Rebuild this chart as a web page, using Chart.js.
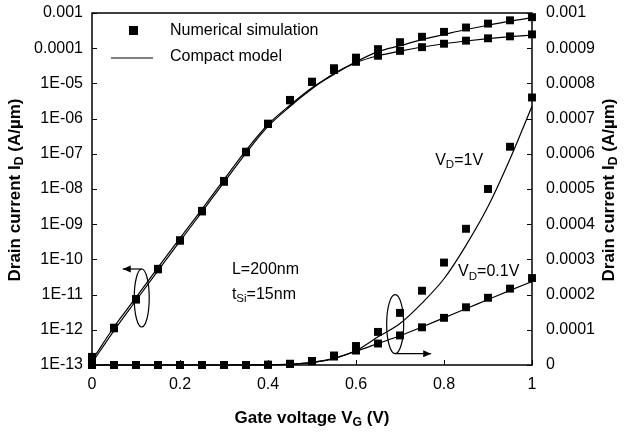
<!DOCTYPE html>
<html>
<head>
<meta charset="utf-8">
<script src="https://cdn.jsdelivr.net/npm/chart.js@4.4.1/dist/chart.umd.min.js"></script>
<style>
  html, body { margin: 0; padding: 0; background: #fff; }
  #wrap { width: 624px; height: 438px; position: relative; }
</style>
</head>
<body>
<div id="wrap"><canvas id="chart"></canvas></div>
<script>
// gate voltage steps (V)
const gateVoltage = [0, 0.05, 0.1, 0.15, 0.2, 0.25, 0.3, 0.35, 0.4, 0.45, 0.5,
  0.55, 0.6, 0.65, 0.7, 0.75, 0.8, 0.85, 0.9, 0.95, 1];

// numerical simulation, drain current (A/um)
const simVd1 = [1.7e-13, 1.15e-12, 7.5e-12, 5.4e-11, 3.5e-10, 2.4e-9, 1.7e-8, 1.15e-7, 7.2e-7, 3.4e-6, 1.12e-5,
  2.7e-5, 5.4e-5, 9.4e-5, 1.48e-4, 2.11e-4, 2.91e-4, 3.87e-4, 5.0e-4, 6.2e-4, 7.6e-4];
const simVd01 = [1.6e-13, 1.1e-12, 7.2e-12, 5.2e-11, 3.4e-10, 2.3e-9, 1.6e-8, 1.1e-7, 7.0e-7, 3.3e-6, 1.1e-5,
  2.4e-5, 4.1e-5, 6.1e-5, 8.4e-5, 1.07e-4, 1.34e-4, 1.64e-4, 1.91e-4, 2.17e-4, 2.47e-4];

// compact model
const modelVd1 = [1.35e-13, 1.2e-12, 8.3e-12, 5.9e-11, 4.0e-10, 2.7e-9, 1.85e-8, 1.25e-7, 6.8e-7, 2.4e-6, 7.5e-6,
  1.8e-5, 4.1e-5, 8.0e-5, 1.18e-4, 1.76e-4, 2.45e-4, 3.4e-4, 4.5e-4, 5.85e-4, 7.35e-4];
const modelVd01 = [1.15e-13, 9.5e-13, 6.8e-12, 4.8e-11, 3.3e-10, 2.25e-9, 1.55e-8, 1.05e-7, 6.0e-7, 2.2e-6, 7.0e-6,
  1.9e-5, 3.9e-5, 6.1e-5, 8.3e-5, 1.08e-4, 1.34e-4, 1.6e-4, 1.86e-4, 2.12e-4, 2.37e-4];

// tick labels
const xTickLabels = ["0", "0.2", "0.4", "0.6", "0.8", "1"];
const logTickValues = [1e-13, 1e-12, 1e-11, 1e-10, 1e-9, 1e-8, 1e-7, 1e-6, 1e-5, 1e-4, 1e-3];
const logTickLabels = ["1E-13", "1E-12", "1E-11", "1E-10", "1E-09", "1E-08", "1E-07", "1E-06", "1E-05", "0.0001", "0.001"];
const linTickLabels = ["0", "0.0001", "0.0002", "0.0003", "0.0004", "0.0005", "0.0006", "0.0007", "0.0008", "0.0009", "0.001"];

const FONT = "'Liberation Sans', Arial, sans-serif";

const pts = (ys) => gateVoltage.map((x, i) => ({ x: x, y: ys[i] }));

function simSet(ys, axis) {
  return {
    data: pts(ys),
    yAxisID: axis,
    showLine: false,
    pointStyle: "rect",
    pointRadius: 5.6,
    pointBackgroundColor: "#000",
    pointBorderWidth: 0,
    clip: false,
  };
}

function modelSet(ys, axis) {
  return {
    data: pts(ys),
    yAxisID: axis,
    showLine: true,
    borderColor: "#000",
    borderWidth: 1.2,
    pointRadius: 0,
    cubicInterpolationMode: "monotone",
    clip: false,
  };
}

// draws text runs, a run with sub=true is a subscript
function drawRuns(ctx, runs, x, y, size, bold) {
  ctx.textBaseline = "middle";
  ctx.textAlign = "left";
  let cx = x;
  runs.forEach((r) => {
    const s = r.sub ? size * 0.72 : size;
    ctx.font = (bold ? "bold " : "") + s + "px " + FONT;
    ctx.fillText(r.t, cx, r.sub ? y + size * 0.28 : y);
    cx += ctx.measureText(r.t).width;
  });
  return cx - x;
}

function runsWidth(ctx, runs, size, bold) {
  let w = 0;
  runs.forEach((r) => {
    const s = r.sub ? size * 0.72 : size;
    ctx.font = (bold ? "bold " : "") + s + "px " + FONT;
    w += ctx.measureText(r.t).width;
  });
  return w;
}

function arrow(ctx, x1, y1, x2, y2) {
  ctx.beginPath();
  ctx.moveTo(x1, y1);
  ctx.lineTo(x2, y2);
  ctx.stroke();
  const dir = Math.sign(x2 - x1);
  ctx.beginPath();
  ctx.moveTo(x2, y2);
  ctx.lineTo(x2 - dir * 8, y2 - 3.5);
  ctx.lineTo(x2 - dir * 8, y2 + 3.5);
  ctx.closePath();
  ctx.fill();
}

const decorations = {
  id: "decorations",
  afterDatasetsDraw(chart) {
    const ctx = chart.ctx;
    const a = chart.chartArea;
    const xs = chart.scales.x, yl = chart.scales.y, yr = chart.scales.y2;
    ctx.save();
    ctx.strokeStyle = "#000";
    ctx.fillStyle = "#000";

    // frame
    ctx.lineWidth = 1.5;
    ctx.strokeRect(a.left, a.top, a.right - a.left, a.bottom - a.top);

    // inward ticks
    ctx.lineWidth = 1;
    ctx.beginPath();
    xs.ticks.forEach((t) => {
      const px = Math.round(xs.getPixelForValue(t.value)) + 0.5;
      ctx.moveTo(px, a.bottom);
      ctx.lineTo(px, a.bottom - 5);
    });
    yl.ticks.forEach((t) => {
      const py = Math.round(yl.getPixelForValue(t.value)) + 0.5;
      ctx.moveTo(a.left, py);
      ctx.lineTo(a.left + 5, py);
    });
    yr.ticks.forEach((t) => {
      const py = Math.round(yr.getPixelForValue(t.value)) + 0.5;
      ctx.moveTo(a.right, py);
      ctx.lineTo(a.right - 5, py);
    });
    ctx.stroke();

    // legend
    ctx.fillRect(a.left + 37, a.top + 13, 9, 9);
    ctx.lineWidth = 1.2;
    ctx.beginPath();
    ctx.moveTo(a.left + 19, a.top + 45);
    ctx.lineTo(a.left + 61, a.top + 45);
    ctx.stroke();
    ctx.font = "16px " + FONT;
    ctx.textBaseline = "middle";
    ctx.fillText("Numerical simulation", a.left + 78, a.top + 18);
    ctx.fillText("Compact model", a.left + 78, a.top + 44);

    // annotations
    drawRuns(ctx, [{ t: "L=200nm" }], xs.getPixelForValue(0.318), yl.getPixelForValue(5e-11), 16, false);
    drawRuns(ctx, [{ t: "t" }, { t: "Si", sub: true }, { t: "=15nm" }], xs.getPixelForValue(0.318), yl.getPixelForValue(1e-11), 16, false);
    drawRuns(ctx, [{ t: "V" }, { t: "D", sub: true }, { t: "=1V" }], xs.getPixelForValue(0.78), yr.getPixelForValue(5.8e-4), 16, false);
    drawRuns(ctx, [{ t: "V" }, { t: "D", sub: true }, { t: "=0.1V" }], xs.getPixelForValue(0.832), yr.getPixelForValue(2.64e-4), 16, false);

    // ellipses with arrows
    ctx.lineWidth = 1.2;
    const lx = xs.getPixelForValue(0.113), ly = yl.getPixelForValue(8e-12);
    ctx.beginPath();
    ctx.ellipse(lx, ly, 7.5, 29, 0, 0, Math.PI * 2);
    ctx.stroke();
    arrow(ctx, lx, ly - 29, lx - 19, ly - 29);
    const rx = xs.getPixelForValue(0.689), ry = yr.getPixelForValue(1.16e-4);
    ctx.beginPath();
    ctx.ellipse(rx, ry, 8.5, 29.5, 0, 0, Math.PI * 2);
    ctx.stroke();
    arrow(ctx, rx, ry + 29.5, rx + 36, ry + 29.5);

    // axis titles
    const xTitle = [{ t: "Gate voltage V" }, { t: "G", sub: true }, { t: " (V)" }];
    const wx = runsWidth(ctx, xTitle, 17, true);
    drawRuns(ctx, xTitle, (a.left + a.right) / 2 - wx / 2, 418, 17, true);

    const yTitle = [{ t: "Drain current I" }, { t: "D", sub: true }, { t: " (A/\u00b5m)" }];
    const wy = runsWidth(ctx, yTitle, 17, true);
    const cy = 190;
    ctx.save();
    ctx.translate(15, cy);
    ctx.rotate(-Math.PI / 2);
    drawRuns(ctx, yTitle, -wy / 2, 0, 17, true);
    ctx.restore();
    ctx.save();
    ctx.translate(609, cy);
    ctx.rotate(-Math.PI / 2);
    drawRuns(ctx, yTitle, -wy / 2, 0, 17, true);
    ctx.restore();

    ctx.restore();
  },
};

const fixY = (s) => { s.width = 92; s.paddingTop = 0; s.paddingBottom = 0; };

new Chart(document.getElementById("chart"), {
  type: "scatter",
  data: {
    datasets: [
      simSet(simVd1, "y"),
      simSet(simVd01, "y"),
      simSet(simVd1, "y2"),
      simSet(simVd01, "y2"),
      modelSet(modelVd1, "y"),
      modelSet(modelVd01, "y"),
      modelSet(modelVd1, "y2"),
      modelSet(modelVd01, "y2"),
    ],
  },
  options: {
    responsive: true,
    maintainAspectRatio: false,
    animation: false,
    layout: { padding: { top: 13, left: 0, right: 0, bottom: 0 } },
    plugins: { legend: { display: false }, tooltip: { enabled: false } },
    scales: {
      x: {
        type: "linear",
        min: 0,
        max: 1,
        grid: { display: false, drawTicks: false },
        border: { display: false },
        ticks: {
          stepSize: 0.2,
          padding: 10,
          maxRotation: 0,
          color: "#000",
          font: { family: FONT, size: 16 },
          callback: (v, i) => xTickLabels[i],
        },
        afterFit: (s) => { s.height = 73; s.paddingLeft = 0; s.paddingRight = 0; },
      },
      y: {
        type: "logarithmic",
        position: "left",
        min: 1e-13,
        max: 1e-3,
        grid: { display: false, drawTicks: false },
        border: { display: false },
        afterBuildTicks: (s) => { s.ticks = logTickValues.map((v) => ({ value: v })); },
        ticks: {
          padding: 9,
          autoSkip: false,
          color: "#000",
          font: { family: FONT, size: 16 },
          callback: (v, i) => logTickLabels[i],
        },
        afterFit: fixY,
      },
      y2: {
        type: "linear",
        position: "right",
        min: 0,
        max: 0.001,
        grid: { display: false, drawTicks: false },
        border: { display: false },
        ticks: {
          stepSize: 0.0001,
          padding: 14,
          autoSkip: false,
          color: "#000",
          font: { family: FONT, size: 16 },
          callback: (v, i) => linTickLabels[i],
        },
        afterFit: fixY,
      },
    },
  },
  plugins: [decorations],
});
</script>
</body>
</html>
